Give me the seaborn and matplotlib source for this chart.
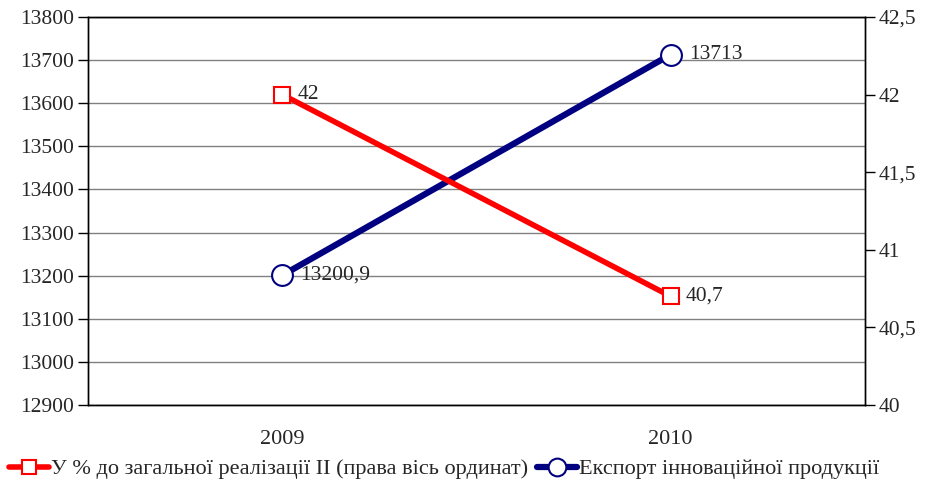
import seaborn as sns
import matplotlib.pyplot as plt
import matplotlib.ticker as mticker
import pandas as pd

years = ['2009', '2010']
export = [13200.9, 13713]
share = [42, 40.7]
export_name = 'Експорт інноваційної продукції'
share_name = 'У % до загальної реалізації ІІ (права вісь ординат)'

dpi = 100
sns.set_style('white')
plt.rcParams['font.family'] = ['Liberation Serif', 'DejaVu Serif']

df = pd.DataFrame({'year': [0, 1], 'export': export, 'share': share})

fig = plt.figure(figsize=(928 / dpi, 483 / dpi), dpi=dpi)
ax = fig.add_axes([88 / 928, 1 - 405 / 483, (865 - 88) / 928, (405 - 17) / 483])
ax2 = ax.twinx()

sns.lineplot(data=df, x='year', y='export', ax=ax, color='#000080', linewidth=4.5,
             marker='o', markersize=15, markerfacecolor='white',
             markeredgecolor='#000080', markeredgewidth=1.5, label=export_name, legend=False)
sns.lineplot(data=df, x='year', y='share', ax=ax2, color='#FF0000', linewidth=4,
             marker='s', markersize=12, markerfacecolor='white',
             markeredgecolor='#FF0000', markeredgewidth=1.5, label=share_name, legend=False)

fmt = lambda v: ('%g' % v).replace('.', ',')
for i, v in enumerate(export):
    ax.annotate(fmt(v), (i, v), xytext=(13, 0), textcoords='offset points',
                va='center', ha='left', fontsize=15.5)
for i, v in enumerate(share):
    ax2.annotate(fmt(v), (i, v), xytext=(11, 0), textcoords='offset points',
                 va='center', ha='left', fontsize=15.5)

ax.set_xlim(-0.5, 1.5)
ax.set_ylim(12900, 13800)
ax.set_yticks(range(12900, 13801, 100))
ax2.set_ylim(40, 42.5)
ax2.set_yticks([40, 40.5, 41, 41.5, 42, 42.5])
ax2.yaxis.set_major_formatter(mticker.FuncFormatter(lambda v, p: fmt(v)))

ax.set_xticks([-0.5, 0.5, 1.5])
ax.set_xticklabels([])
ax.set_xticks([0, 1], minor=True)
ax.set_xticklabels(years, minor=True)
ax.tick_params(axis='x', which='major', length=7, direction='out', color='black', width=1)
ax.tick_params(axis='x', which='minor', length=0, pad=18, labelsize=16)
ax.tick_params(axis='y', length=7, direction='out', color='black', width=1, labelsize=15.5, pad=3)
ax2.tick_params(axis='y', length=7, direction='out', color='black', width=1, labelsize=15.5, pad=3)

ax.yaxis.grid(True, color='#808080', linewidth=1)
ax.set_axisbelow(True)
for a in (ax, ax2):
    for s in a.spines.values():
        s.set_color('black')
        s.set_linewidth(1)
    a.set_xlabel('')
    a.set_ylabel('')

h1, l1 = ax2.get_legend_handles_labels()
h2, l2 = ax.get_legend_handles_labels()
fig.legend(h1 + h2, l1 + l2, loc='lower left', bbox_to_anchor=(-0.005, -0.02), ncol=2,
           frameon=False, fontsize=16, handlelength=1.8, handletextpad=0.1,
           columnspacing=0.4, borderaxespad=0.2, markerscale=0.85)

fig.savefig('out.png', dpi=dpi)
